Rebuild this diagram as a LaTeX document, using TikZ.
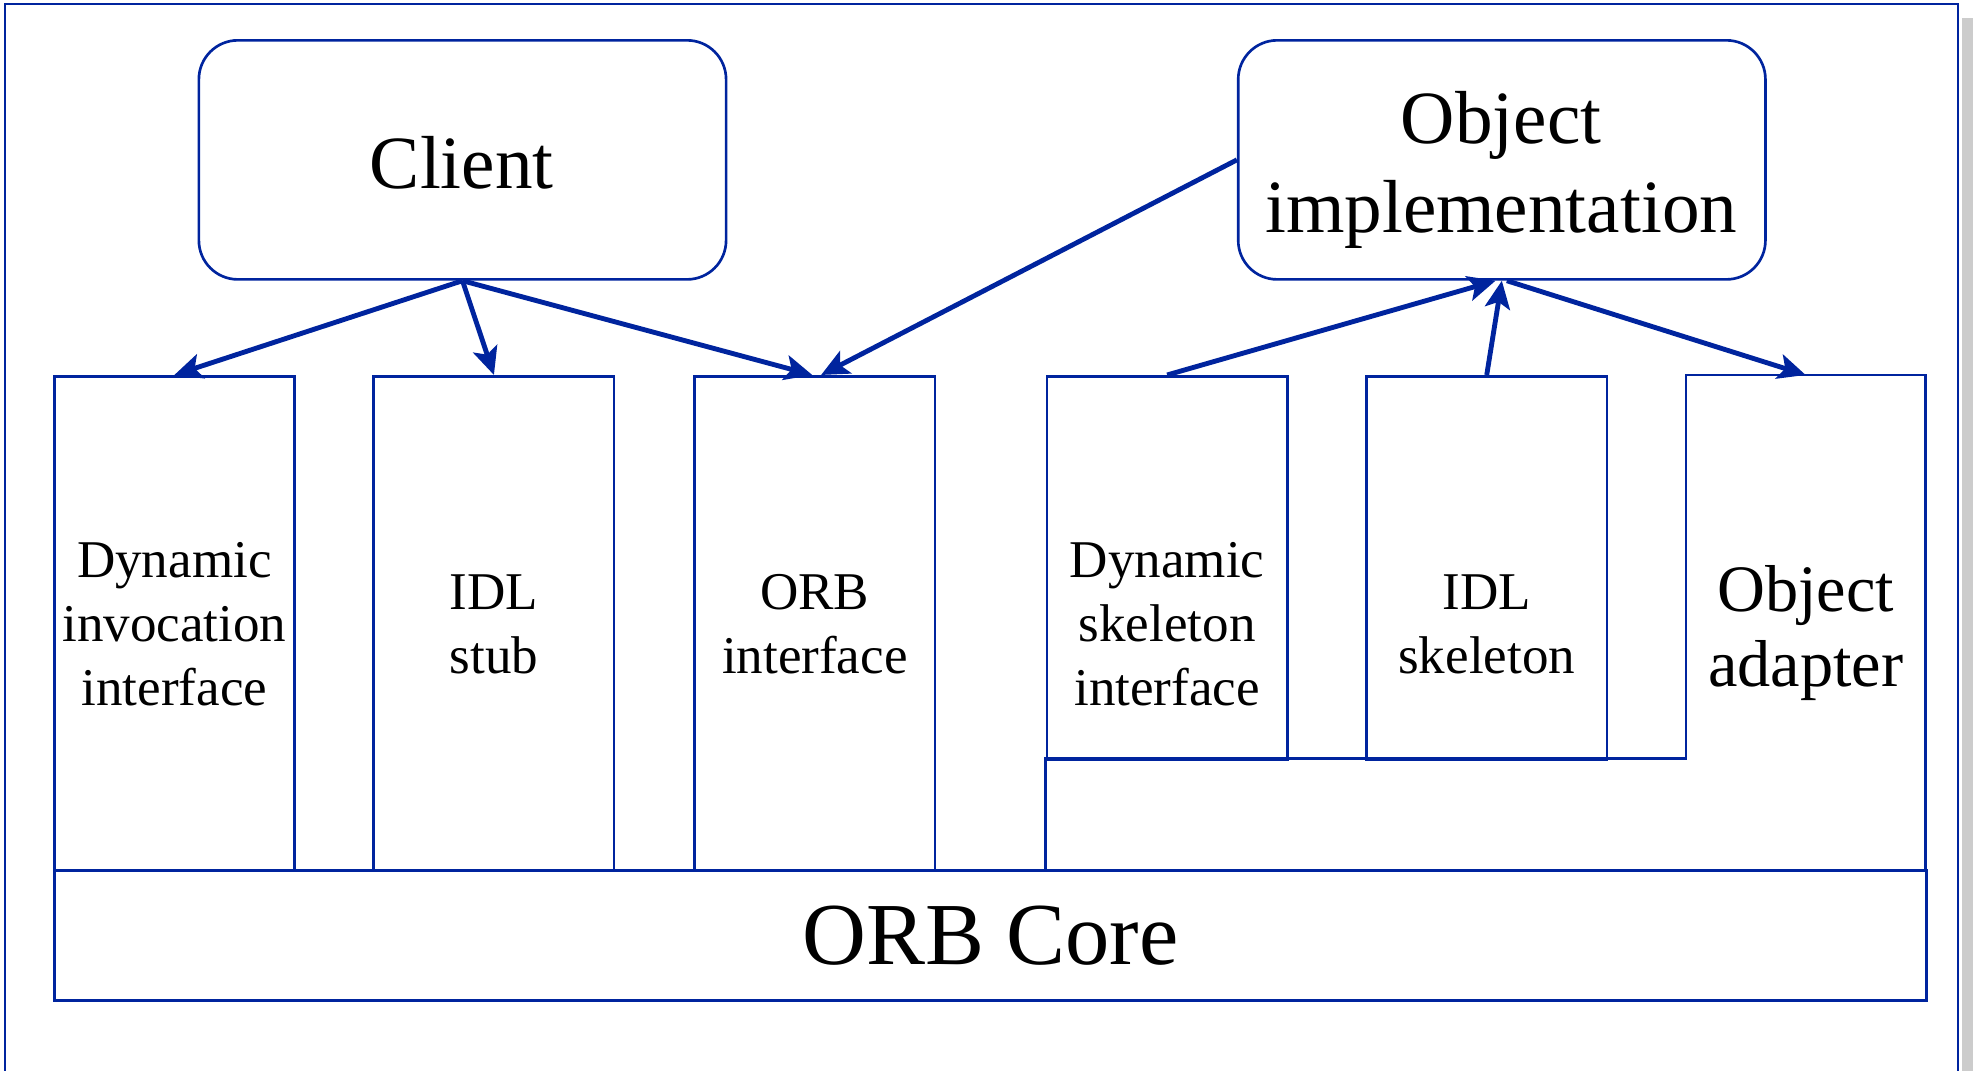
\documentclass[tikz,border=0pt]{standalone}
\usepackage{fontspec}
\setmainfont{Liberation Serif}
\usetikzlibrary{arrows.meta}
\definecolor{orbblue}{RGB}{0,36,158}
\tikzset{
  frame/.style={draw=orbblue, line width=0.6pt},
  party/.style={frame, rounded corners=3.1mm, minimum width=41.9mm, minimum height=19mm, anchor=north west},
  layer/.style={frame, minimum width=19.1mm, anchor=north west},
  small/.style={align=center, font=\fontsize{12}{14.5}\selectfont},
  big/.style={align=center, font=\fontsize{17}{20}\selectfont},
  call/.style={draw=orbblue, line width=1.1pt, -{Stealth[length=2.2mm,width=2mm,inset=0.5mm]}}
}
\begin{document}
\begin{tikzpicture}[x=0.1mm,y=-0.1mm]
\useasboundingbox (0,0) rectangle (1568,851);
% page frame
\fill[black!20] (1559,14) rectangle (1568,851);
\draw[orbblue, line width=0.45pt] (4,851) -- (4,3) -- (1556,3) -- (1556,851);

% client and server
\node[party] (client) at (157,31) {};
\node[big] (client-name) at (367,129) {Client};
\node[party] (impl) at (983,31) {};
\node[big] (impl-name) at (1193,135) {Object\\implementation};

% stubs and skeletons
\node[layer, minimum height=39.3mm] (dii) at (42,298) {};
\node[layer, minimum height=39.3mm] (stub) at (296,298) {};
\node[layer, minimum height=39.3mm] (orbif) at (551,298) {};
\node[layer, minimum height=30.5mm] (dsi) at (831,298) {};
\node[layer, minimum height=30.5mm] (skel) at (1085,298) {};
\draw[frame] (831,691) -- (831,603) -- (1340,603) -- (1340,298) -- (1530,298) -- (1530,691);
\coordinate (adapter) at (1435,298);
\node[align=center, font=\fontsize{15}{17}\selectfont] (adapter-name) at (1435,503) {Object\\adapter};
\foreach \n/\words in {dii/{Dynamic\\invocation\\interface}, stub/{IDL\\stub},
    orbif/{ORB\\interface}, dsi/{Dynamic\\skeleton\\interface}, skel/{IDL\\skeleton}}
  \node[small] (\n-name) at (\n.center |- 0,496) {\words};

% core
\node[frame, minimum width=148.8mm, minimum height=10.3mm, anchor=north west,
  font=\fontsize{20}{24}\selectfont] (core) at (42,691) {ORB Core};

% calls
\draw[call] (client.south) -- (dii.north);
\draw[call] (client.south) -- (stub.north);
\draw[call] (client.south) -- ([xshift=-0.2mm]orbif.north);
\draw[call] (impl.west) -- ([xshift=0.5mm]orbif.north);
\draw[call] (dsi.north) -- ([xshift=-0.5mm]impl.south);
\draw[call] (skel.north) -- (impl.south);
\draw[call] ([xshift=0.4mm]impl.south) -- (adapter);
\end{tikzpicture}
\end{document}
